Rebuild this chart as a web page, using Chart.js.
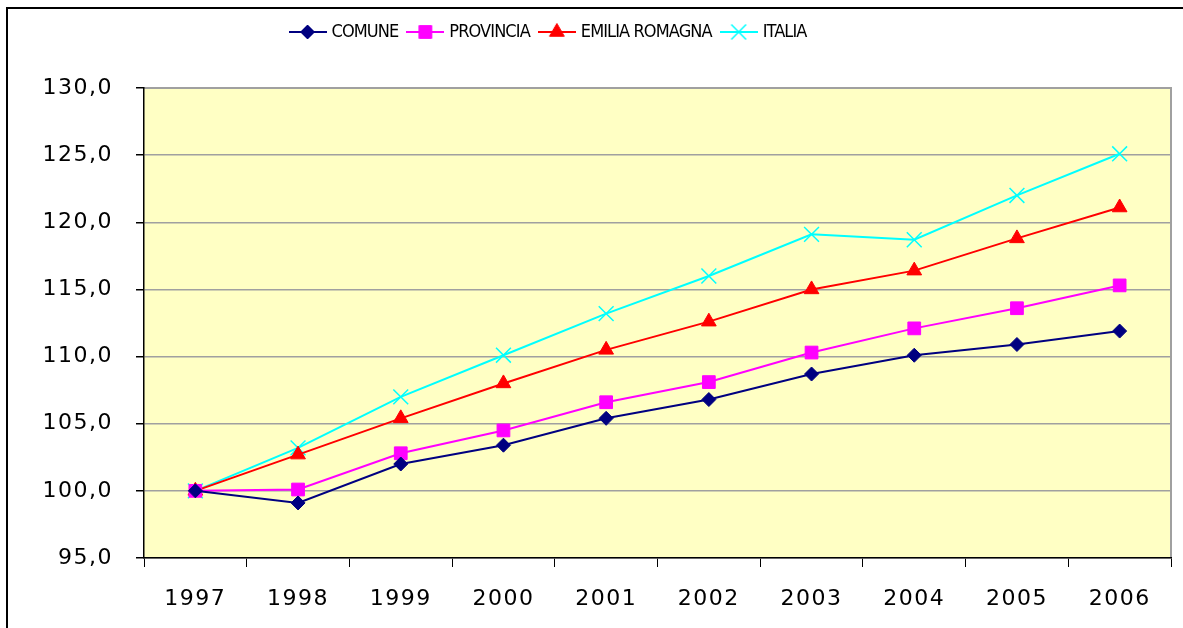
<!DOCTYPE html>
<html>
<head>
<meta charset="utf-8">
<script src="https://cdn.jsdelivr.net/npm/chart.js@4.4.1/dist/chart.umd.min.js"></script>
<style>
  html, body { margin: 0; padding: 0; background: #fff; }
  #wrap { width: 1183px; height: 628px; position: relative; }
</style>
</head>
<body>
<div id="wrap"><canvas id="chartLine" width="1183" height="628"></canvas></div>
<script>
// data
var years = ["1997", "1998", "1999", "2000", "2001", "2002", "2003", "2004", "2005", "2006"];
var comune = [100.0, 99.1, 102.0, 103.4, 105.4, 106.8, 108.7, 110.1, 110.9, 111.9];
var provincia = [100.0, 100.1, 102.8, 104.5, 106.6, 108.1, 110.3, 112.1, 113.6, 115.3];
var emilia = [100.0, 102.7, 105.4, 108.0, 110.5, 112.6, 115.0, 116.4, 118.8, 121.1];
var italia = [100.0, 103.2, 107.0, 110.1, 113.2, 116.0, 119.1, 118.7, 122.0, 125.1];

// small legend icon: line with the marker in the middle
function legendIcon(color, style, radius, bw) {
  var c = document.createElement("canvas");
  c.width = 38;
  c.height = 22;
  var ctx = c.getContext("2d");
  ctx.strokeStyle = color;
  ctx.fillStyle = color;
  ctx.lineWidth = 2;
  ctx.beginPath();
  ctx.moveTo(0, 11);
  ctx.lineTo(38, 11);
  ctx.stroke();
  ctx.lineWidth = bw;
  Chart.helpers.drawPoint(ctx, { pointStyle: style, radius: radius, borderWidth: bw, rotation: 0 }, 19, 11);
  return c;
}

function serie(label, values, color, style, radius, bw) {
  return {
    label: label,
    data: values,
    borderColor: color,
    backgroundColor: color,
    borderWidth: 2,
    pointStyle: style,
    pointRadius: radius,
    pointHoverRadius: radius,
    pointBorderWidth: bw,
    tension: 0,
    icon: legendIcon(color, style, radius, bw)
  };
}

// plot background, outer frame, tick/legend text spacing, legend shift
var frame = {
  id: "frame",
  afterInit: function(chart) {
    // empty box under the legend so the plot starts lower
    Chart.layouts.addBox(chart, {
      position: "top",
      weight: 500,
      fullSize: true,
      options: {},
      isHorizontal: function() { return true; },
      update: function(maxWidth) { this.width = maxWidth; this.height = 37; },
      draw: function() {}
    });
    var legend = chart.legend;
    var fit = legend.fit;
    legend.fit = function() {
      this.ctx.save();
      this.ctx.letterSpacing = "-0.9px";
      fit.apply(this, arguments);
      this.ctx.restore();
    };
    var draw = legend.draw;
    legend.draw = function() {
      var boxes = this.legendHitBoxes || [];
      var dx = 0;
      if (boxes.length) {
        var last = boxes[boxes.length - 1];
        dx = 549.5 - (boxes[0].left + last.left + last.width) / 2;
      }
      this.ctx.save();
      this.ctx.letterSpacing = "-0.9px";
      this.ctx.translate(dx, 0);
      draw.apply(this, arguments);
      this.ctx.restore();
    };
  },
  beforeDraw: function(chart) {
    Object.keys(chart.scales).forEach(function(k) {
      var s = chart.scales[k];
      if (!s._spaced) {
        var drawLabels = s.drawLabels;
        s.drawLabels = function(area) {
          this.ctx.save();
          this.ctx.letterSpacing = "1.5px";
          drawLabels.call(this, area);
          this.ctx.restore();
        };
        s._spaced = true;
      }
    });
    var a = chart.chartArea, ctx = chart.ctx;
    ctx.save();
    ctx.fillStyle = "#ffffc4";
    ctx.fillRect(a.left, a.top, a.right - a.left, a.bottom - a.top);
    ctx.strokeStyle = "#a0a0a0";
    ctx.lineWidth = 2;
    ctx.beginPath();
    ctx.moveTo(a.left, a.top);
    ctx.lineTo(a.right, a.top);
    ctx.lineTo(a.right, a.bottom);
    ctx.stroke();
    ctx.restore();
  },
  afterDraw: function(chart) {
    var ctx = chart.ctx;
    ctx.save();
    ctx.strokeStyle = "#000";
    ctx.lineWidth = 2;
    ctx.beginPath();
    ctx.moveTo(7, 640);
    ctx.lineTo(7, 8);
    ctx.lineTo(1190, 8);
    ctx.stroke();
    ctx.restore();
  }
};

var chartLine = new Chart(document.getElementById("chartLine"), {
  type: "line",
  data: {
    labels: years,
    datasets: [
      serie("COMUNE", comune, "#000080", "rectRot", 7, 1),
      serie("PROVINCIA", provincia, "#ff00ff", "rect", 9, 1),
      serie("EMILIA ROMAGNA", emilia, "#ff0000", "triangle", 8.5, 1),
      serie("ITALIA", italia, "#00ffff", "crossRot", 10.5, 1.5)
    ]
  },
  plugins: [frame],
  options: {
    responsive: false,
    animation: false,
    layout: { padding: { left: 10, right: 11, top: 11, bottom: 8 } },
    plugins: {
      legend: {
        display: true,
        position: "top",
        labels: {
          color: "#000",
          font: { family: "'DejaVu Sans Condensed', 'Liberation Sans'", size: 18 },
          usePointStyle: true,
          pointStyleWidth: 30,
          padding: 12,
          generateLabels: function(chart) {
            return chart.data.datasets.map(function(ds, i) {
              return {
                text: ds.label,
                pointStyle: ds.icon,
                fillStyle: ds.borderColor,
                strokeStyle: ds.borderColor,
                lineWidth: 0,
                datasetIndex: i,
                hidden: false
              };
            });
          }
        }
      },
      tooltip: { enabled: false }
    },
    scales: {
      x: {
        offset: true,
        grid: {
          offset: true,
          drawOnChartArea: false,
          drawTicks: true,
          tickLength: 9,
          tickColor: "#000"
        },
        border: { color: "#000", width: 1.5 },
        ticks: {
          color: "#000",
          padding: 19,
          maxRotation: 0,
          font: { family: "'DejaVu Sans', Verdana", size: 22 }
        },
        afterFit: function(scale) { scale.height = 62; }
      },
      y: {
        min: 95,
        max: 130,
        grid: {
          color: "#a0a0a0",
          lineWidth: 1.5,
          tickColor: "#000",
          tickLength: 8
        },
        border: { color: "#000", width: 1.5 },
        ticks: {
          stepSize: 5,
          color: "#000",
          padding: 23,
          font: { family: "'DejaVu Sans', Verdana", size: 22 },
          callback: function(v) { return v.toFixed(1).replace(".", ","); }
        },
        afterFit: function(scale) { scale.width = 134; }
      }
    }
  }
});
</script>
</body>
</html>
